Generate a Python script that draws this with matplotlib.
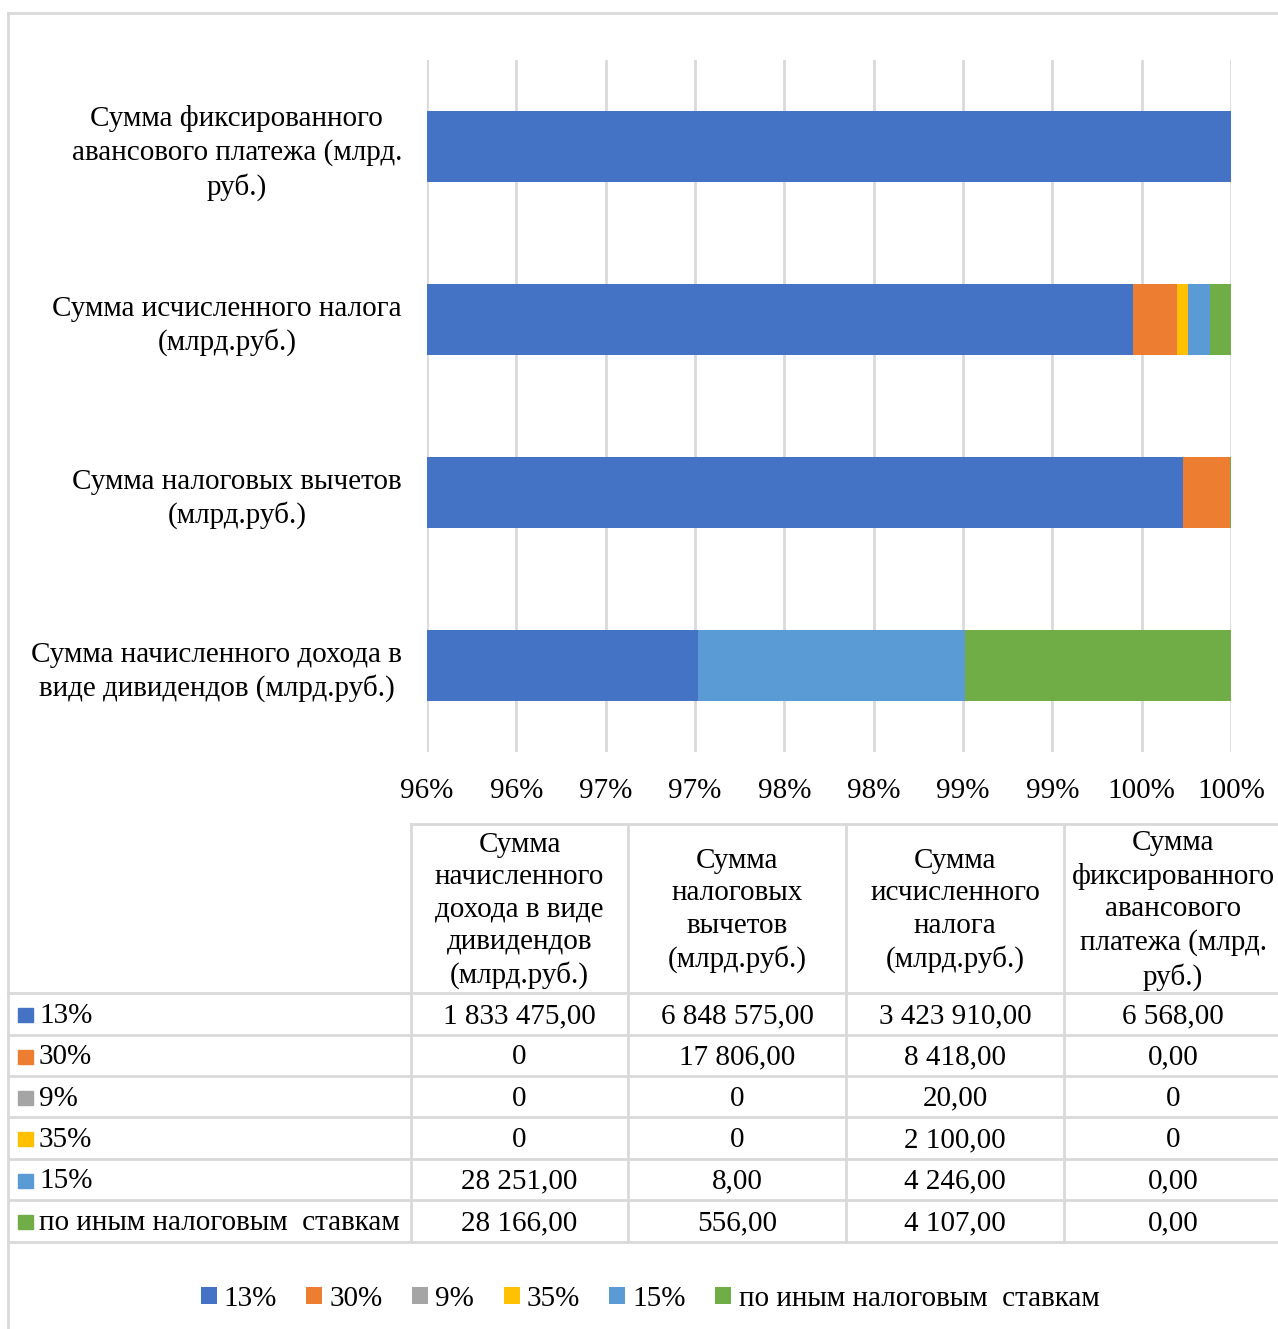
import numpy as np
import matplotlib
matplotlib.use("Agg")
import matplotlib.pyplot as plt
from matplotlib.lines import Line2D
from matplotlib.patches import Rectangle

plt.rcParams['font.family'] = ['Liberation Serif', 'DejaVu Serif']

# Table columns / bar categories (bottom bar first)
categories = [
    "Сумма начисленного дохода в\nвиде дивидендов (млрд.руб.)",
    "Сумма налоговых вычетов\n(млрд.руб.)",
    "Сумма исчисленного налога\n(млрд.руб.)",
    "Сумма фиксированного\nавансового платежа (млрд.\nруб.)",
]
table_headers = [
    "Сумма\nначисленного\nдохода в виде\nдивидендов\n(млрд.руб.)",
    "Сумма\nналоговых\nвычетов\n(млрд.руб.)",
    "Сумма\nисчисленного\nналога\n(млрд.руб.)",
    "Сумма\nфиксированного\nавансового\nплатежа (млрд.\nруб.)",
]

series_names = ["13%", "30%", "9%", "35%", "15%", "по иным налоговым  ставкам"]
colors = ["#4472C4", "#ED7D31", "#A5A5A5", "#FFC000", "#5B9BD5", "#70AD47"]

# values as they appear in the data table
rate_13 = ["1 833 475,00", "6 848 575,00", "3 423 910,00", "6 568,00"]
rate_30 = ["0", "17 806,00", "8 418,00", "0,00"]
rate_9 = ["0", "0", "20,00", "0"]
rate_35 = ["0", "0", "2 100,00", "0"]
rate_15 = ["28 251,00", "8,00", "4 246,00", "0,00"]
rate_other = ["28 166,00", "556,00", "4 107,00", "0,00"]
rows = [rate_13, rate_30, rate_9, rate_35, rate_15, rate_other]


def to_num(s):
    return float(s.replace(" ", "").replace(",", "."))


vals = np.array([[to_num(s) for s in r] for r in rows])
shares = vals / vals.sum(axis=0) * 100

W, H = 1278, 1329
fig = plt.figure(figsize=(W / 100, H / 100), dpi=100)
FS = 21
LS = 1.32
GRID = "#D9D9D9"

# chart area (pixel box 427..1231 x 60..752)
ax = fig.add_axes([427 / W, 1 - 752 / H, (1231 - 427) / W, (752 - 60) / H])
y = np.arange(len(categories))
left = np.zeros(len(categories))
for sh, c, name in zip(shares, colors, series_names):
    ax.barh(y, sh, left=left, height=0.405, color=c, label=name, zorder=3)
    left += sh

ax.set_xlim(95.5, 100)
ax.set_ylim(-0.5, len(categories) - 0.5)
ticks = np.arange(95.5, 100.01, 0.5)
ax.set_xticks(ticks)
ax.set_xticklabels([f"{int(np.floor(t + 0.5))}%" for t in ticks])
ax.set_yticks(y)
ax.set_yticklabels(categories, multialignment='center', linespacing=LS)
ax.grid(axis='x', color=GRID, linewidth=2, zorder=0)
for s in ax.spines.values():
    s.set_visible(False)
ax.tick_params(axis='both', length=0, labelsize=FS)
ax.tick_params(axis='x', pad=19)
ax.tick_params(axis='y', pad=18)

# overlay in pixel coordinates for frame, data table and legend
ov = fig.add_axes([0, 0, 1, 1], zorder=-1)
ov.set_xlim(0, W)
ov.set_ylim(H, 0)
ov.axis('off')

ov.add_line(Line2D([8, W], [13, 13], color=GRID, lw=2))
ov.add_line(Line2D([8, 8], [13, H], color=GRID, lw=2))

col_x = [411, 628, 846, 1064, 1282]
row_y = [993, 1035, 1076, 1117, 1159, 1200, 1242]
top_y = 824

ov.add_line(Line2D([col_x[0], W], [top_y, top_y], color=GRID, lw=2))
for yy in row_y:
    ov.add_line(Line2D([8, W], [yy, yy], color=GRID, lw=2))
for xx in col_x[:-1]:
    ov.add_line(Line2D([xx, xx], [top_y, row_y[-1]], color=GRID, lw=2))

for j, hdr in enumerate(table_headers):
    cx = (col_x[j] + col_x[j + 1]) / 2
    ov.text(cx, (top_y + row_y[0]) / 2 + 2, hdr, ha='center', va='center',
            fontsize=FS, linespacing=LS)

for i, (r, name, c) in enumerate(zip(rows, series_names, colors)):
    cy = (row_y[i] + row_y[i + 1]) / 2
    ov.add_patch(Rectangle((18, cy - 6), 15, 14, color=c))
    ov.text(39, cy + 2, name, ha='left', va='center', fontsize=FS)
    for j, s in enumerate(r):
        cx = (col_x[j] + col_x[j + 1]) / 2
        ov.text(cx, cy + 2, s, ha='center', va='center', fontsize=FS)

handles, labels = ax.get_legend_handles_labels()
fig.legend(handles, labels, loc='center', ncol=6,
           bbox_to_anchor=(650 / W, 1 - 1299 / H), frameon=False,
           fontsize=FS, handlelength=0.55, handleheight=0.55,
           handletextpad=0.25, columnspacing=1.0)

fig.savefig("out.png", dpi=100)
